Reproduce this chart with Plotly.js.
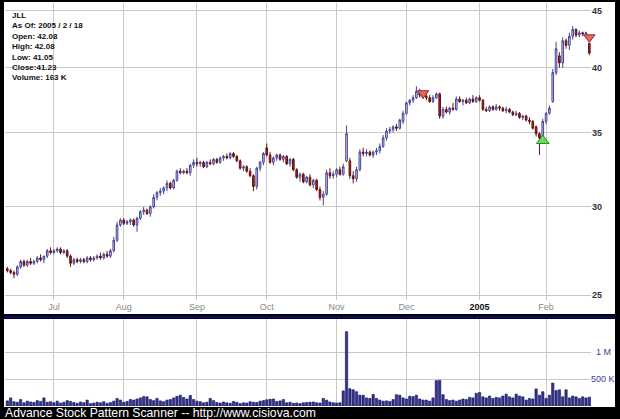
<!DOCTYPE html>
<html>
<head>
<meta charset="utf-8">
<script src="https://cdn.plot.ly/plotly-3.0.1.min.js"></script>
<style>html,body{margin:0;padding:0;background:#000;}#chart{width:620px;height:419px;}</style>
</head>
<body>
<div id="chart"></div>
<script>
const monthLabels = ['Jul','Aug','Sep','Oct','Nov','Dec','2005','Feb'];
const monthIdx = [14,35,57,78,99,120,142,162];
const priceTicks = [25,30,35,40,45];
const volTicks = [500000,1000000];
const volTickLabels = ['500 K','1 M'];

const opens = [26.4,26.3,26.2,26.1,26.5,26.8,26.6,26.8,26.7,26.8,27.0,26.9,27.1,27.4,27.3,27.4,27.5,27.3,27.4,27.1,
26.7,26.9,26.8,26.9,26.8,27.0,26.9,27.0,27.1,27.0,27.2,27.1,27.4,28.0,28.9,29.2,29.0,29.1,29.2,28.9,
29.3,29.7,29.8,29.6,30.0,30.6,30.9,31.0,31.2,31.5,31.2,31.7,32.3,32.2,32.3,32.2,32.7,32.9,32.8,32.9,
32.6,32.9,32.8,33.1,32.9,33.2,33.3,33.2,33.5,33.3,33.0,32.5,32.6,32.3,32.0,31.3,32.5,32.9,33.9,33.4,
32.9,33.2,33.4,33.1,33.3,32.8,33.1,32.4,31.9,32.1,31.6,31.9,31.4,31.7,31.1,30.6,30.8,32.2,32.0,32.1,
32.4,32.1,33.0,33.0,32.0,31.8,32.4,33.6,33.5,33.6,33.4,33.6,33.7,34.0,34.6,35.1,35.2,35.4,35.3,35.8,
36.4,37.2,37.4,37.6,38.1,37.8,37.7,37.6,37.3,37.6,37.9,36.2,36.7,36.5,36.8,36.7,37.5,37.3,37.4,37.2,
37.5,37.3,37.6,37.4,36.7,36.6,36.9,36.7,36.9,36.8,36.6,36.7,36.5,36.3,36.4,36.1,36.2,35.9,35.8,35.4,
34.9,34.6,35.8,36.4,37.3,39.6,41.0,40.4,42.3,41.9,42.7,43.3,42.8,43.0,42.9,42.08];
const highs = [26.5,26.4,26.3,26.6,26.9,26.9,26.9,27.0,26.9,27.1,27.2,27.1,27.5,27.6,27.5,27.6,27.6,27.5,27.5,27.2,
27.0,27.0,27.0,27.0,27.1,27.1,27.1,27.2,27.3,27.3,27.4,27.5,28.2,29.1,29.3,29.3,29.2,29.3,29.3,29.4,
29.8,30.0,29.9,30.1,30.8,31.0,31.2,31.3,31.7,31.6,31.8,32.4,32.5,32.4,32.5,32.8,33.1,33.2,33.0,33.0,
33.0,33.1,33.2,33.2,33.3,33.4,33.5,33.6,33.6,33.4,33.1,32.7,32.7,32.5,32.1,32.6,33.0,33.6,34.2,33.6,
33.3,33.5,33.5,33.4,33.4,33.2,33.2,32.5,32.2,32.2,32.0,32.1,31.8,31.8,31.3,31.0,32.4,32.5,32.3,32.5,
32.6,32.8,35.5,33.2,32.3,32.6,33.8,33.9,33.8,33.7,33.7,33.9,34.2,34.8,35.3,35.4,35.5,35.6,36.0,36.6,
37.3,37.5,37.8,38.5,38.3,38.0,37.9,37.8,37.8,38.0,38.0,36.9,36.9,36.9,37.2,37.7,37.7,37.5,37.6,37.6,
37.8,37.7,37.8,37.5,36.9,37.0,37.0,37.1,37.0,36.9,36.9,36.8,36.6,36.6,36.5,36.3,36.3,36.1,35.9,35.5,
35.0,36.0,36.5,37.0,39.9,42.2,41.3,42.6,42.5,43.0,43.6,43.4,43.2,43.1,43.1,42.08];
const lows = [26.2,26.1,25.9,26.0,26.4,26.5,26.5,26.6,26.6,26.7,26.8,26.7,27.0,27.2,27.2,27.3,27.2,27.2,27.0,26.5,
26.6,26.7,26.7,26.7,26.7,26.8,26.8,26.9,26.9,26.9,27.0,27.0,27.3,27.9,28.8,28.9,28.9,28.9,28.8,28.5,
29.2,29.5,29.5,29.4,29.9,30.4,30.7,30.8,31.0,31.1,31.1,31.6,32.1,32.1,32.1,32.0,32.5,32.6,32.6,32.5,
32.5,32.7,32.7,32.8,32.8,33.0,33.1,33.1,33.2,32.9,32.4,32.3,32.2,31.9,31.0,31.1,32.3,32.7,33.3,32.8,
32.7,33.0,33.0,32.9,32.7,32.6,32.3,31.8,31.6,31.5,31.5,31.3,31.2,31.0,30.4,30.1,30.7,31.8,31.8,31.9,
32.0,32.0,32.9,31.8,31.5,31.6,32.3,33.3,33.3,33.3,33.2,33.4,33.5,33.9,34.4,34.9,35.0,35.1,35.2,35.6,
36.3,37.0,37.2,37.5,37.6,37.5,37.4,37.2,37.2,37.5,36.0,36.0,36.4,36.3,36.6,36.6,37.2,37.0,37.1,37.1,
37.2,37.2,37.3,36.6,36.5,36.5,36.6,36.6,36.6,36.5,36.4,36.4,36.2,36.2,36.0,35.9,35.8,35.6,35.2,34.7,
33.4,34.4,35.6,36.3,37.2,39.4,40.0,40.0,41.6,41.5,42.4,42.6,42.6,42.7,42.8,41.05];
const closes = [26.3,26.2,26.1,26.5,26.8,26.6,26.8,26.7,26.8,27.0,26.9,27.1,27.4,27.3,27.4,27.5,27.3,27.4,27.1,26.7,
26.9,26.8,26.9,26.8,27.0,26.9,27.0,27.1,27.0,27.2,27.1,27.4,28.0,28.9,29.2,29.0,29.1,29.2,28.9,29.3,
29.7,29.8,29.6,30.0,30.6,30.9,31.0,31.2,31.5,31.2,31.7,32.3,32.2,32.3,32.2,32.7,32.9,32.8,32.9,32.6,
32.9,32.8,33.1,32.9,33.2,33.3,33.2,33.5,33.3,33.0,32.5,32.6,32.3,32.0,31.3,32.5,32.9,33.5,33.4,32.9,
33.2,33.4,33.1,33.3,32.8,33.1,32.4,31.9,32.1,31.6,31.9,31.4,31.7,31.1,30.6,30.8,32.2,32.0,32.1,32.4,
32.1,32.6,34.9,32.0,31.8,32.4,33.6,33.5,33.6,33.4,33.6,33.7,34.0,34.6,35.1,35.2,35.4,35.3,35.9,36.4,
37.2,37.4,37.6,38.1,37.8,37.7,37.6,37.3,37.6,37.9,36.2,36.7,36.5,36.8,36.7,37.5,37.3,37.4,37.2,37.5,
37.3,37.6,37.4,36.7,36.6,36.9,36.7,36.9,36.8,36.6,36.7,36.5,36.3,36.4,36.1,36.2,35.9,35.8,35.3,34.9,
34.6,35.8,36.4,36.8,39.6,41.6,40.4,42.3,41.9,42.7,43.3,42.8,43.0,42.9,43.0,41.23];
const volumesK = [95,150,80,70,120,60,90,75,65,100,85,150,70,80,
60,90,55,70,100,85,65,50,75,60,110,45,55,70,60,80,50,65,90,140,110,
70,85,120,110,130,150,175,170,120,100,140,95,80,110,120,150,180,200,160,130,195,120,
90,80,60,70,140,100,65,55,75,60,50,85,70,45,60,55,80,70,65,90,100,
115,125,130,85,95,120,60,70,50,55,45,60,65,70,75,60,55,140,110,75,60,
55,60,280,1376,320,300,265,200,200,150,140,215,140,110,90,95,85,120,210,200,150,
130,180,175,200,130,110,110,90,150,470,475,210,120,100,110,90,110,130,120,160,150,235,
250,170,150,185,140,160,150,185,220,170,150,220,185,170,110,140,130,316,200,265,
140,200,425,285,300,170,300,150,185,170,140,170,150,163];

const sellIdx = [125,175];
const sellPrice = [37.95,42.6];
const buyIdx = [161];
const buyPrice = [34.4];

const infoLines = ['JLL','As Of: 2005 / 2 / 18','Open: 42.08','High: 42.08','Low: 41.05','Close:41.23','Volume: 163 K'];
const footerText = 'Advance Stock Pattern Scanner -- http://www.cisiova.com';

const idx = closes.map((_, i) => i);
const FONT = 'Liberation Sans, Arial, sans-serif';

const L = 5, R = 29, T = 3, B = 13, W = 620, H = 419;
const pw = W - L - R, ph = H - T - B;
const px = x => (x - L) / pw;
const py = y => (H - B - y) / ph;

const traces = [
  {
    type: 'candlestick', x: idx, open: opens, high: highs, low: lows, close: closes,
    xaxis: 'x', yaxis: 'y',
    increasing: {line: {color: '#44449a', width: 1}, fillcolor: '#d0d0ee'},
    decreasing: {line: {color: '#6a1010', width: 1}, fillcolor: '#8e2a2a'},
    whiskerwidth: 0, hoverinfo: 'skip'
  },
  {
    type: 'bar', x: idx, y: volumesK.map(v => v * 1000), xaxis: 'x2', yaxis: 'y2',
    marker: {color: '#34348a', line: {color: '#141460', width: 0.6}}, hoverinfo: 'skip'
  },
  {
    type: 'scatter', mode: 'markers', x: sellIdx, y: sellPrice, xaxis: 'x', yaxis: 'y', cliponaxis: false,
    marker: {symbol: 'triangle-down', size: 10, color: '#e46464', line: {color: '#a02828', width: 1}}
  },
  {
    type: 'scatter', mode: 'markers', x: buyIdx, y: buyPrice, xaxis: 'x', yaxis: 'y', cliponaxis: false,
    marker: {symbol: 'triangle-up', size: 11, color: '#6ddc5a', line: {color: '#2a8a2a', width: 1}}
  }
];

const ticktextMonths = monthLabels.map(m => m === '2005' ? '<span style="color:#111"><b>2005</b></span>' : m);

const layout = {
  width: W, height: H,
  paper_bgcolor: '#000', plot_bgcolor: '#fff',
  margin: {l: L, r: R, t: T, b: B, pad: 0},
  showlegend: false,
  bargap: 0.3,
  xaxis: {
    domain: [0, 1], anchor: 'y', range: [-0.7, 175.5],
    tickmode: 'array', tickvals: monthIdx, ticktext: ticktextMonths,
    showgrid: true, gridcolor: '#c8c8c8', gridwidth: 1, zeroline: false, showline: false,
    ticks: '', tickfont: {family: FONT, size: 9, color: '#888'},
    rangeslider: {visible: false}
  },
  yaxis: {
    domain: [py(300), 1], anchor: 'x', type: 'log',
    range: [Math.log10(24.75), Math.log10(45.73)], side: 'right',
    tickmode: 'array', tickvals: priceTicks, ticktext: priceTicks.map(v => '<b>' + v + '</b>'),
    showgrid: true, gridcolor: '#c8c8c8', zeroline: false, showline: false, ticks: '',
    tickfont: {family: FONT, size: 9, color: '#333'}
  },
  xaxis2: {
    domain: [0, 1], anchor: 'y2', matches: 'x', range: [-0.7, 175.5],
    tickmode: 'array', tickvals: monthIdx, showticklabels: false,
    showgrid: true, gridcolor: '#c8c8c8', zeroline: false, showline: false, ticks: ''
  },
  yaxis2: {
    domain: [0, py(319)], anchor: 'x2', range: [0, 1611000],
    tickmode: 'array', tickvals: volTicks, showticklabels: false,
    showgrid: true, gridcolor: '#c8c8c8', zeroline: false, showline: false, ticks: ''
  },
  shapes: [
    {type: 'rect', xref: 'paper', yref: 'paper', x0: px(4), x1: px(615), y0: py(314), y1: py(2), fillcolor: '#fff', line: {width: 0}, layer: 'below'},
    {type: 'rect', xref: 'paper', yref: 'paper', x0: px(4), x1: px(615), y0: py(407), y1: py(319), fillcolor: '#fff', line: {width: 0}, layer: 'below'},
    {type: 'rect', xref: 'paper', yref: 'paper', x0: px(4), x1: px(615), y0: py(318.5), y1: py(315.5), fillcolor: '#0c0c58', line: {width: 0}, layer: 'below'}
  ],
  annotations: [
    {xref: 'paper', yref: 'paper', x: px(10), y: py(9), xanchor: 'left', yanchor: 'top', align: 'left',
     showarrow: false, text: infoLines.map(s => '<b>' + s + '</b>').join('<br>'),
     font: {family: FONT, size: 8, color: '#111'}},
    {xref: 'paper', yref: 'paper', x: px(3), y: py(412.5), xanchor: 'left', yanchor: 'middle',
     showarrow: false, text: footerText, font: {family: FONT, size: 12.2, color: '#fff'}},
    {xref: 'paper', yref: 'y2', x: px(603), y: volTicks[0], xanchor: 'center', yanchor: 'middle',
     showarrow: false, text: volTickLabels[0], font: {family: FONT, size: 9, color: '#3c3ca0'}},
    {xref: 'paper', yref: 'y2', x: px(603), y: volTicks[1], xanchor: 'center', yanchor: 'middle',
     showarrow: false, text: volTickLabels[1], font: {family: FONT, size: 9, color: '#3c3ca0'}}
  ]
};

Plotly.newPlot('chart', traces, layout, {staticPlot: true, displayModeBar: false});
</script>
</body>
</html>
